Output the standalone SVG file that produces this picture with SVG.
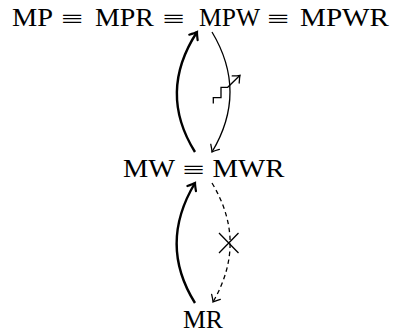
<svg xmlns="http://www.w3.org/2000/svg" width="397" height="336" viewBox="0 0 397 336">
<style>
text{font-family:"Liberation Serif","DejaVu Serif",serif;font-size:25px;fill:#000;text-anchor:middle}
.thick{fill:none;stroke:#000;stroke-width:2.4}
.thin{fill:none;stroke:#000;stroke-width:1.3}
.dash{fill:none;stroke:#000;stroke-width:1.3;stroke-dasharray:4.5 3.5}
</style>
<defs>
<marker id="hk" markerUnits="userSpaceOnUse" orient="auto" refX="0" refY="0" markerWidth="20" markerHeight="20" viewBox="-10 -10 20 20" overflow="visible">
<path d="M-6.5,-5 Q-2,-1.2 0,0 Q-2,1.2 -6.5,5" fill="none" stroke="#000" stroke-width="2.2" stroke-linecap="round"/>
</marker>
<marker id="hn" markerUnits="userSpaceOnUse" orient="auto" refX="0" refY="0" markerWidth="20" markerHeight="20" viewBox="-10 -10 20 20" overflow="visible">
<path d="M-6,-5 Q-2,-1.2 0,0 Q-2,1.2 -6,5" fill="none" stroke="#000" stroke-width="1.3" stroke-linecap="round"/>
</marker>
</defs>
<g id="node-top">
<text x="32.5" y="25.5" textLength="41" lengthAdjust="spacingAndGlyphs">MP</text>
<text x="72" y="26.5" textLength="22" lengthAdjust="spacingAndGlyphs">≡</text>
<text x="124.5" y="25.5" textLength="59" lengthAdjust="spacingAndGlyphs">MPR</text>
<text x="173.5" y="26.5" textLength="22" lengthAdjust="spacingAndGlyphs">≡</text>
<text x="229.5" y="25.5" textLength="61" lengthAdjust="spacingAndGlyphs">MPW</text>
<text x="278" y="26.5" textLength="22" lengthAdjust="spacingAndGlyphs">≡</text>
<text x="344.5" y="25.5" textLength="89" lengthAdjust="spacingAndGlyphs">MPWR</text>
</g>
<g id="node-mid">
<text x="149" y="176.5" textLength="52" lengthAdjust="spacingAndGlyphs">MW</text>
<text x="193.5" y="177.5" textLength="22" lengthAdjust="spacingAndGlyphs">≡</text>
<text x="248.5" y="176.5" textLength="72" lengthAdjust="spacingAndGlyphs">MWR</text>
</g>
<g id="node-bottom">
<text x="203" y="328" textLength="40" lengthAdjust="spacingAndGlyphs">MR</text>
</g>
<g id="connectors">
<path class="thick" d="M195,152 C170,112 171,72 197,32" marker-end="url(#hk)"/>
<path class="thin" d="M212,32 C236,72 236,112 212,152" marker-end="url(#hn)"/>
<path class="thin" d="M213.3,103.5 V97.7 H221 V87.3 H227.7 L240,75.3" marker-end="url(#hn)"/>
<path class="thick" d="M195,303 C170,263 171,223 195,183" marker-end="url(#hk)"/>
<path class="dash" d="M212,183 C236,223 236,262 213,302" marker-end="url(#hn)"/>
<path class="thin" d="M219,233 L238.5,253 M238.5,233 L219,253"/>
</g>
</svg>
